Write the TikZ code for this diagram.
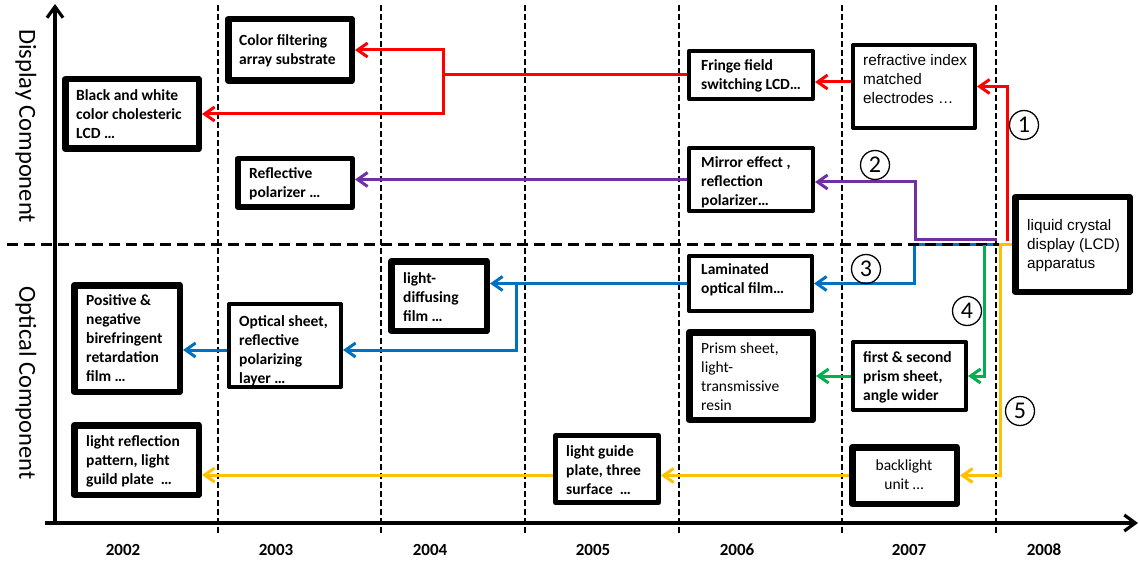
\documentclass[tikz,border=0pt]{standalone}
\usepackage{fontspec}
\setmainfont{Carlito}
\newfontfamily\arialfont{Liberation Sans}
\usetikzlibrary{arrows.meta}
\definecolor{lnred}{HTML}{FF0000}
\definecolor{lnpurple}{HTML}{7030A0}
\definecolor{lnblue}{HTML}{0070C0}
\definecolor{lngreen}{HTML}{00B050}
\definecolor{lnyellow}{HTML}{FFC000}
\newcommand\lblfont{\fontsize{15.5}{19}\selectfont\bfseries}
\newcommand\lblfontreg{\fontsize{15.5}{19}\selectfont}
\newcommand\lblfontarial{\arialfont\fontsize{15.3}{19}\selectfont}
\newcommand\yearfont{\fontsize{17}{20}\selectfont\bfseries}
\newcommand\axisfont{\fontsize{24.5}{28}\selectfont}
\newcommand\numfont{\fontsize{24}{24}\selectfont}
\begin{document}
\begin{tikzpicture}[x=1pt,y=-1pt,
  box/.style={draw, fill=white, line join=round, inner sep=0pt},
  heavy/.style={box, line width=6.5pt, outer sep=3.25pt},
  light/.style={box, line width=4pt, outer sep=2pt},
  lbl/.style={inner sep=0pt, anchor=west, align=left, font=\lblfont},
  link/.style={line width=3pt, line join=miter, -{Straight Barb[length=10pt,width=14pt]}},
  trunk/.style={line width=3pt, line join=miter},
  yeargrid/.style={line width=2pt, dash pattern=on 6pt off 3pt},
  split/.style={line width=2.2pt, dash pattern=on 11pt off 6pt},
  axis/.style={line width=3.2pt, -{Straight Barb[length=11pt,width=16pt]}},
  num/.style={circle, draw, line width=1.3pt, minimum size=29pt, inner sep=0pt, font=\numfont},
  year/.style={font=\yearfont, inner sep=0pt}
]
\useasboundingbox (0,0) rectangle (1139,561);

% year separators
\foreach \gx in {218,381,525,679,842,996}
  \draw[yeargrid] (\gx,5) -- (\gx,535);

% axes
\draw[axis] (55,524.5) -- (55,4);
\draw[axis] (45,523) -- (1138,523);

% axis titles
\node[font=\axisfont, rotate=-90, inner sep=0pt] (dispaxis) at (26,126) {Display Component};
\node[font=\axisfont, rotate=-90, inner sep=0pt] (optaxis) at (26,383) {Optical Component};

% years
\node[year] (y2002) at (123,550) {2002};
\node[year] (y2003) at (276,550) {2003};
\node[year] (y2004) at (430,550) {2004};
\node[year] (y2005) at (593,550) {2005};
\node[year] (y2006) at (737,550) {2006};
\node[year] (y2007) at (909,550) {2007};
\node[year] (y2008) at (1044,550) {2008};

% boxes
\node[heavy, minimum width=123.5, minimum height=61.5] (cf) at (290,50) {};
\node[heavy, minimum width=133.5, minimum height=69.5] (bw) at (132,114) {};
\node[box, line width=5.5pt, outer sep=2.75pt, minimum width=114.5, minimum height=48.5] (rp) at (295,183) {};
\node[light, minimum width=124, minimum height=48] (ff) at (751,75) {};
\node[light, minimum width=124, minimum height=63] (me) at (751,179.5) {};
\node[light, minimum width=122, minimum height=83] (ri) at (914,86.5) {};
\node[heavy, minimum width=114.5, minimum height=94.5] (lcd) at (1072.5,244.5) {};
\node[light, minimum width=123, minimum height=55] (lam) at (750.5,283.5) {};
\node[heavy, minimum width=95.5, minimum height=69.5] (ld) at (439,296) {};
\node[heavy, minimum width=105.5, minimum height=106.5] (pn) at (127,338.5) {};
\node[light, minimum width=112, minimum height=83] (os) at (285,345.5) {};
\node[heavy, minimum width=123.5, minimum height=87.5] (ps) at (751,376) {};
\node[light, minimum width=113, minimum height=68] (fs) at (909.5,376) {};
\node[heavy, minimum width=124.5, minimum height=69.5] (lr) at (136.5,460) {};
\node[box, line width=4.8pt, outer sep=2.4pt, minimum width=103.2, minimum height=67.2] (lg) at (607,469) {};
\node[heavy, minimum width=104.5, minimum height=56.5] (bl) at (904.5,475.5) {};

% box texts
\node[lbl] (cf-t) at (239,51) {Color filtering\\array substrate};
\node[lbl] (bw-t) at (76,114) {Black and white\\color cholesteric\\LCD …};
\node[lbl] (rp-t) at (249,184) {Reflective\\polarizer …};
\node[lbl] (ff-t) at (701,75.5) {Fringe field\\switching LCD…};
\node[lbl] (me-t) at (701,182) {Mirror effect ,\\reflection\\polarizer…};
\node[lbl, font=\lblfontarial] (ri-t) at (863,79) {refractive index\\matched\\electrodes …};
\node[lbl, font=\lblfontarial] (lcd-t) at (1027,246) {liquid crystal\\display (LCD)\\apparatus};
\node[lbl] (lam-t) at (701,280) {Laminated\\optical film…};
\node[lbl] (ld-t) at (403,297) {light-\\diffusing\\film …};
\node[lbl] (pn-t) at (86,338) {Positive \&\\negative\\birefringent\\retardation\\film …};
\node[lbl] (os-t) at (239,351) {Optical sheet,\\reflective\\polarizing\\layer …};
\node[lbl, font=\lblfontreg] (ps-t) at (701,376.5) {Prism sheet,\\light-\\transmissive\\resin};
\node[lbl] (fs-t) at (863,377) {first \& second\\prism sheet,\\angle wider};
\node[lbl] (lr-t) at (86,461) {light reflection\\pattern, light\\guild plate~ …};
\node[lbl] (lg-t) at (566,470) {light guide\\plate, three\\surface~ …};
\node[lbl, font=\lblfontreg, anchor=center, align=center] (bl-t) at (904,475) {backlight\\unit …};

% branch points and free ends
\coordinate (r0) at (1007,241);
\coordinate (rb) at (443,75);
\coordinate (p0) at (997,239);
\coordinate (p1) at (915,239);
\coordinate (b0) at (998,244.5);
\coordinate (b1) at (914,244.5);
\coordinate (bb) at (516,283.5);
\coordinate (g0) at (984,244.5);
\coordinate (yk) at (1000,244.5);
\coordinate (ri-w) at ([yshift=4.5pt]ri.west);
\coordinate (me-e) at ([yshift=-2.5pt]me.east);
\coordinate (os-e) at ([yshift=-4.5pt]os.east);
\coordinate (os-w) at ([yshift=-4.5pt]os.west);
\coordinate (lg-w) at ([yshift=-6pt]lg.west);

% path 3 (blue)
\draw[link, lnblue] (b0) -- (b1) |- (lam.east);
\draw[link, lnblue] (lam.west) -- (lam.west -| ld.east);
\draw[link, lnblue] (bb) |- (os-e);
\draw[link, lnblue] (os-w) -- (os-w -| pn.east);

% display / optical divider
\draw[split] (7,244.5) -- (lcd.west);

% path 1 (red)
\draw[link, lnred] (r0) |- (ri.east);
\draw[link, lnred] (ri-w) -- (ri-w -| ff.east);
\draw[trunk, lnred] (ff.west) -- (rb);
\draw[link, lnred] (rb) |- (cf.east);
\draw[link, lnred] (rb) |- (bw.east);

% path 2 (purple)
\draw[link, lnpurple] (p0) -- (p1) |- (me-e);
\draw[link, lnpurple] (me.west) -- (me.west -| rp.east);

% path 4 (green)
\draw[link, lngreen] (g0) |- (fs.east);
\draw[link, lngreen] (fs.west) -- (ps.east);

% path 5 (yellow)
\draw[link, lnyellow] (lcd.west) -- (yk) |- (bl.east);
\draw[link, lnyellow] (bl.west) -- (bl.west -| lg.east);
\draw[link, lnyellow] (lg-w) -- (lg-w -| lr.east);

% path numbers
\node[num] (n1) at (1024,125) {1};
\node[num] (n2) at (875,165) {2};
\node[num] (n3) at (866,269) {3};
\node[num] (n4) at (967,311) {4};
\node[num] (n5) at (1020,411) {5};
\end{tikzpicture}
\end{document}
